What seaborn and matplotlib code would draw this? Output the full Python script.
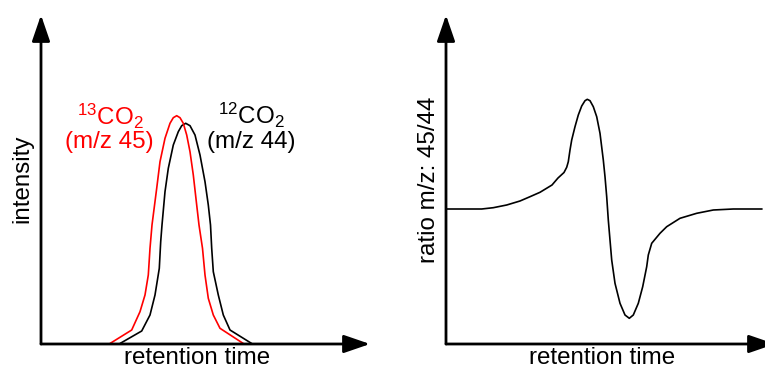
import matplotlib
matplotlib.use("Agg")
import matplotlib.pyplot as plt
import seaborn as sns
import pandas as pd

sns.set_style("white")
plt.rcParams['font.family'] = ['Liberation Sans', 'DejaVu Sans']
plt.rcParams['mathtext.fontset'] = 'custom'
plt.rcParams['mathtext.rm'] = 'Liberation Sans'
plt.rcParams['mathtext.it'] = 'Liberation Sans:italic'
plt.rcParams['text.color'] = 'black'

# ---- data (arbitrary units) ----
# left panel: chromatogram peaks
t13 = [69, 90.7, 99, 104, 107.3, 109, 111, 115.7, 119, 124, 129, 132.3, 135.7,
       139, 142.3, 145.7, 149, 152.3, 155.7, 158, 161.5, 164, 167.3, 172.3, 179, 202.3]
i13 = [0.5, 14, 32.3, 49, 69, 95.7, 119, 155.7, 182.3, 205.7, 220.7, 226.3, 228.3,
       226.3, 220.7, 209, 192.3, 169, 139, 119, 95.7, 69, 45.7, 29, 15.7, 0.5]
t12 = [79, 100.7, 109, 114, 118.3, 119.7, 121, 124, 127.3, 132.3, 137.3, 140.7, 144.7,
       149, 154, 159, 164, 167.3, 169.5, 170.7, 172.3, 177.3, 182.3, 189, 210.7]
i12 = [0.5, 13, 29, 49, 75.7, 102.3, 119, 152.3, 175.7, 199, 212.3, 218.3, 220.7,
       218.3, 209, 189, 162.3, 139, 119, 95.7, 72.3, 49, 29, 14, 0.5]

# right panel: ratio 45/44
t_ratio = [0, 35.7, 47.3, 60.7, 74, 84, 94, 106, 112, 118, 120.7, 122.3, 124, 125.7,
           129, 132.3, 135.7, 139, 141.3, 144, 147.3, 150.7, 154, 157.3, 159, 160.7,
           162.3, 165.7, 169, 174, 179, 183.3, 187.3, 192.3, 196.7, 200.7, 202.3,
           205.7, 214, 220.7, 234, 250.7, 267.3, 287.3, 316]
r_ratio = [135, 135, 136.3, 139, 143, 147.3, 151.7, 159, 166, 171.5, 176.7, 182.3, 194, 204,
           217.3, 229, 238, 243.3, 244.7, 243.3, 237.3, 227.3, 210.7, 184, 167.3, 147.3,
           124, 84, 60.7, 40.7, 29, 25.7, 29, 40.7, 57.3, 77.3, 89,
           100.7, 110.7, 117.3, 125.7, 130.7, 134, 135, 135]

label13_top, label13_bot = r'$^{13}$CO$_{2}$', '(m/z 45)'
label12_top, label12_bot = r'$^{12}$CO$_{2}$', '(m/z 44)'
xlabel = 'retention time'
ylabel_left = 'intensity'
ylabel_right = 'ratio m/z: 45/44'

W, H = 765, 370
fig = plt.figure(figsize=(W / 100, H / 100), dpi=100)

ax1 = fig.add_axes([41 / W, 26 / H, 329 / W, 329 / H])
ax2 = fig.add_axes([446 / W, 26 / H, 329 / W, 329 / H])

df13 = pd.DataFrame({'t': t13, 'i': i13})
df12 = pd.DataFrame({'t': t12, 'i': i12})
dfr = pd.DataFrame({'t': t_ratio, 'r': r_ratio})

sns.lineplot(data=df12, x='t', y='i', ax=ax1, color='black', lw=1.2,
             estimator=None, sort=False)
sns.lineplot(data=df13, x='t', y='i', ax=ax1, color='#ff0000', lw=1.2,
             estimator=None, sort=False)
sns.lineplot(data=dfr, x='t', y='r', ax=ax2, color='black', lw=1.2,
             estimator=None, sort=False)

arrow = dict(arrowstyle='-|>,head_length=1.6,head_width=0.55', color='black',
             lw=2, shrinkA=0, shrinkB=0, mutation_scale=10)
for ax in (ax1, ax2):
    ax.set_xlim(0, 329)
    ax.set_ylim(0, 329)
    ax.set_axis_off()
    for ln in ax.lines:
        ln.set_clip_on(False)
        ln.set_solid_joinstyle('round')
    ax.annotate('', xy=(1, 0), xytext=(0, 0), xycoords='axes fraction',
                textcoords='axes fraction', arrowprops=arrow, annotation_clip=False)
    ax.annotate('', xy=(0, 1), xytext=(0, 0), xycoords='axes fraction',
                textcoords='axes fraction', arrowprops=arrow, annotation_clip=False)

fs = 17.4
def ftext(x, y, s, **kw):
    fig.text(x / W, 1 - y / H, s, fontsize=fs, **kw)

ftext(110, 116, label13_top, color='#ff0000', ha='center', va='center')
ftext(109, 142, label13_bot, color='#ff0000', ha='center', va='center')
ftext(251, 115, label12_top, color='black', ha='center', va='center')
ftext(251, 142, label12_bot, color='black', ha='center', va='center')

ftext(197, 364, xlabel, color='black', ha='center', va='baseline')
ftext(602, 364, xlabel, color='black', ha='center', va='baseline')
ftext(22, 179, ylabel_left, color='black', rotation=90, ha='center', va='center')
ftext(429, 180, ylabel_right, color='black', rotation=90, ha='center', va='center')

fig.savefig('out.png', dpi=100)
